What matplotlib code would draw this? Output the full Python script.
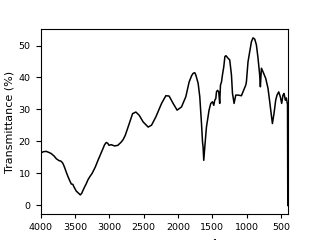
import matplotlib
matplotlib.use("Agg")
import matplotlib.pyplot as plt

wavenumber = [4000, 3960, 3916, 3870, 3843, 3800, 3770, 3730, 3707, 3690, 3673, 3650, 3625, 3600,
              3576, 3552, 3530, 3513, 3480, 3455, 3421, 3400, 3382, 3358, 3334, 3310, 3285, 3247,
              3203, 3154, 3106, 3067, 3043, 3020, 3004, 2971, 2922, 2874, 2826, 2797, 2767, 2724,
              2660, 2612, 2564, 2506, 2433, 2384, 2321, 2238, 2176, 2128, 2070, 2012, 1948, 1885,
              1837, 1800, 1779, 1755, 1740, 1706, 1682, 1657, 1642, 1634, 1624, 1609, 1585, 1547,
              1522, 1497, 1478, 1464, 1449, 1439, 1424, 1406, 1392, 1381, 1366, 1352, 1333, 1316,
              1300, 1270, 1246, 1221, 1206, 1198, 1183, 1158, 1125, 1076, 1042, 1013, 1003, 980,
              955, 930, 907, 882, 858, 834, 810, 800, 785, 762, 722, 689, 664, 640, 625, 602, 577,
              558, 533, 509, 490, 471, 456, 436, 422, 405, 401]
transmittance = [16.3, 16.8, 16.9, 16.5, 16.2, 15.4, 14.6, 14.0, 13.9, 13.6, 13.1, 11.9, 10.4, 9.0,
                 7.8, 6.7, 6.6, 5.8, 4.5, 4.0, 3.3, 3.8, 4.7, 5.8, 6.8, 8.0, 8.9, 10.1,
                 12.0, 14.6, 17.0, 19.0, 19.7, 19.4, 18.8, 19.0, 18.6, 18.8, 19.8, 20.6, 21.9, 24.6,
                 28.7, 29.2, 28.2, 26.1, 24.5, 25.1, 27.7, 31.9, 34.3, 34.2, 31.9, 29.8, 30.8, 34.0,
                 38.6, 40.6, 41.3, 41.5, 40.8, 38.2, 34.0, 25.6, 19.8, 18.3, 14.1, 18.3, 24.5, 29.8,
                 31.9, 32.4, 31.3, 32.9, 33.4, 35.5, 36.0, 35.5, 31.9, 37.6, 38.6, 40.8, 43.3, 46.6,
                 46.8, 46.0, 45.5, 40.8, 35.0, 34.0, 31.9, 34.5, 34.5, 34.3, 36.1, 37.6, 38.7, 44.9,
                 48.1, 51.2, 52.4, 52.0, 50.2, 46.0, 40.8, 37.1, 42.9, 41.8, 39.7, 36.6, 32.4, 28.2,
                 25.6, 28.7, 32.9, 34.5, 35.5, 33.9, 31.9, 34.5, 35.0, 32.9, 33.6, 31.5, 0.0]

x_ticks = [4000, 3500, 3000, 2500, 2000, 1500, 1000, 500]
y_ticks = [0, 10, 20, 30, 40, 50]

fig = plt.figure(figsize=(3.2, 2.4), dpi=100)
ax = fig.add_axes([0.1266, 0.108, 0.9 - 0.1266, 0.879 - 0.108])
ax.plot(wavenumber, transmittance, color="black", lw=1.1)
ax.set_xlim(4000, 398)
ax.set_ylim(-2.7, 55.15)
ax.set_xticks(x_ticks)
ax.set_yticks(y_ticks)
ax.tick_params(axis="x", labelsize=6.8, length=3, width=0.8, pad=3.5)
ax.tick_params(axis="y", labelsize=6.8, length=3.5, width=0.8, pad=3.5)
for s in ax.spines.values():
    s.set_linewidth(0.8)
ax.set_ylabel("Transmittance (%)", fontsize=8, labelpad=3)
ax.set_xlabel("Wavenumber (cm$^{-1}$)", fontsize=8, labelpad=4)

fig.savefig("out.png", dpi=100)
